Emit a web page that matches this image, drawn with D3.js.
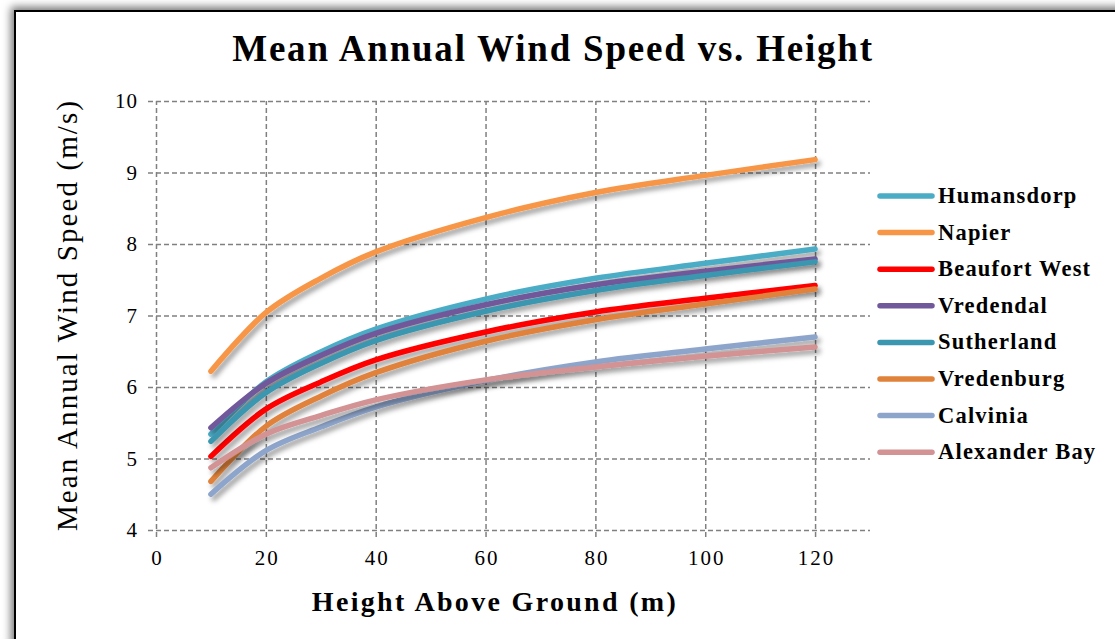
<!DOCTYPE html>
<html>
<head>
<meta charset="utf-8">
<script src="https://cdn.jsdelivr.net/npm/d3@7"></script>
<style>
  html, body { margin: 0; padding: 0; background: #fff; }
  svg { display: block; }
  text { font-family: "Liberation Serif", "DejaVu Serif", serif; fill: #000; }
</style>
</head>
<body>
<svg id="chart" width="1115" height="639"></svg>
<script>
const heights = [10, 20, 30, 40, 60, 80, 100, 120];
const seriesNames = ["Humansdorp", "Napier", "Beaufort West", "Vredendal", "Sutherland", "Vredenburg", "Calvinia", "Alexander Bay"];
const humansdorp   = [5.34, 6.07, 6.49, 6.81, 7.23, 7.52, 7.73, 7.93];
const napier       = [6.22, 7.04, 7.52, 7.89, 8.37, 8.72, 8.96, 9.18];
const beaufortWest = [5.03, 5.69, 6.07, 6.38, 6.77, 7.05, 7.24, 7.42];
const vredendal    = [5.43, 6.05, 6.44, 6.75, 7.15, 7.43, 7.62, 7.79];
const sutherland   = [5.24, 5.92, 6.33, 6.65, 7.06, 7.35, 7.56, 7.75];
const vredenburg   = [4.68, 5.45, 5.87, 6.20, 6.64, 6.94, 7.16, 7.37];
const calvinia     = [4.50, 5.11, 5.44, 5.72, 6.09, 6.35, 6.53, 6.70];
const alexanderBay = [4.87, 5.34, 5.60, 5.82, 6.10, 6.28, 6.43, 6.56];
const seriesValues = [humansdorp, napier, beaufortWest, vredendal, sutherland, vredenburg, calvinia, alexanderBay];
const seriesColors = ["#4BACC6", "#F79646", "#FF0000", "#71589B", "#3B96B0", "#E0823A", "#8EA5CB", "#D39293"];
const xTicks = [0, 20, 40, 60, 80, 100, 120];
const yTicks = [4, 5, 6, 7, 8, 9, 10];

const svg = d3.select("#chart");
const defs = svg.append("defs");

function fitWidth(sel, target) {
  sel.each(function () {
    const n = this.getNumberOfChars();
    const w = this.getComputedTextLength();
    if (n > 1) d3.select(this).attr("letter-spacing", ((target - w) / (n - 1)).toFixed(2));
  });
}

const fs = defs.append("filter").attr("id", "frameShadow")
  .attr("x", "-10%").attr("y", "-10%").attr("width", "120%").attr("height", "120%");
fs.append("feDropShadow").attr("dx", -3).attr("dy", -3).attr("stdDeviation", 4)
  .attr("flood-color", "#000").attr("flood-opacity", 0.55);

const ls = defs.append("filter").attr("id", "lineShadow")
  .attr("x", "-10%").attr("y", "-20%").attr("width", "130%").attr("height", "150%");
ls.append("feDropShadow").attr("dx", 3).attr("dy", 4).attr("stdDeviation", 2.5)
  .attr("flood-color", "#000").attr("flood-opacity", 0.38);

svg.append("rect").attr("x", 0).attr("y", 0).attr("width", 1115).attr("height", 639).attr("fill", "#fff");
svg.append("rect")
  .attr("x", 15).attr("y", 11).attr("width", 1140).attr("height", 680)
  .attr("fill", "#fff").attr("stroke", "#000").attr("stroke-width", 2)
  .attr("filter", "url(#frameShadow)");

const x = d3.scaleLinear().domain([0, 130]).range([156, 870]);
const y = d3.scaleLinear().domain([4, 10]).range([530, 101]);

const hGrid = svg.append("g").attr("transform", `translate(${x(0) - 8},0)`)
  .call(d3.axisRight(y).tickValues(yTicks).tickSize(x(130) - x(0) + 8).tickFormat(""));
hGrid.select(".domain").remove();
hGrid.selectAll("line").attr("stroke", "#808080").attr("stroke-width", 1.5).attr("stroke-dasharray", "5,3");

const vGrid = svg.append("g").attr("transform", `translate(0,${y(4) + 7})`)
  .call(d3.axisTop(x).tickValues(xTicks).tickSize(y(4) + 7 - y(10)).tickFormat(""));
vGrid.select(".domain").remove();
vGrid.selectAll("line").attr("stroke", "#808080").attr("stroke-width", 1.5).attr("stroke-dasharray", "5,3");

const xAx = svg.append("g").attr("transform", `translate(0,${y(4)})`)
  .call(d3.axisBottom(x).tickValues(xTicks).tickSize(0).tickPadding(20).tickFormat(d3.format("d")));
xAx.select(".domain").remove();
xAx.selectAll("text").attr("font-size", 21).style("font-family", '"Liberation Serif", serif')
  .attr("fill", "#000").each(function () {
    const n = this.getNumberOfChars();
    d3.select(this).attr("letter-spacing", n > 1 ? 2 : 0).attr("dx", n > 1 ? 1 : 0);
  });

const yAx = svg.append("g").attr("transform", `translate(${x(0) - 18},0)`)
  .call(d3.axisLeft(y).tickValues(yTicks).tickSize(0).tickPadding(0).tickFormat(d3.format("d")));
yAx.select(".domain").remove();
yAx.selectAll("text").attr("font-size", 21).style("font-family", '"Liberation Serif", serif')
  .attr("fill", "#000").attr("letter-spacing", 1);

const line = d3.line().x((d, i) => x(heights[i])).y(d => y(d)).curve(d3.curveCatmullRom.alpha(0.5));
const lg = svg.append("g");
seriesValues.forEach((vals, k) => {
  lg.append("path").datum(vals)
    .attr("d", line)
    .attr("fill", "none")
    .attr("stroke", seriesColors[k])
    .attr("stroke-width", 5.5)
    .attr("stroke-linecap", "round")
    .attr("stroke-linejoin", "round")
    .attr("filter", "url(#lineShadow)");
});

svg.append("text").attr("x", 553).attr("y", 61).attr("text-anchor", "middle")
  .attr("font-size", 37).attr("font-weight", "bold")
  .text("Mean Annual Wind Speed vs. Height").call(fitWidth, 640);

svg.append("text").attr("x", 495).attr("y", 611).attr("text-anchor", "middle")
  .attr("font-size", 28).attr("font-weight", "bold")
  .text("Height Above Ground (m)").call(fitWidth, 364);
svg.append("text").attr("transform", "translate(77,315) rotate(-90)").attr("text-anchor", "middle")
  .attr("font-size", 29)
  .text("Mean Annual Wind Speed (m/s)").call(fitWidth, 430);

const leg = svg.append("g");
seriesNames.forEach((name, k) => {
  const yy = 196 + k * 36.6;
  leg.append("line").attr("x1", 880).attr("x2", 932).attr("y1", yy).attr("y2", yy)
    .attr("stroke", seriesColors[k]).attr("stroke-width", 5.5).attr("stroke-linecap", "round");
  leg.append("text").attr("x", 938).attr("y", yy + 7).attr("font-size", 22.5).attr("font-weight", "bold")
    .attr("letter-spacing", 1.2)
    .text(name);
});
</script>
</body>
</html>
